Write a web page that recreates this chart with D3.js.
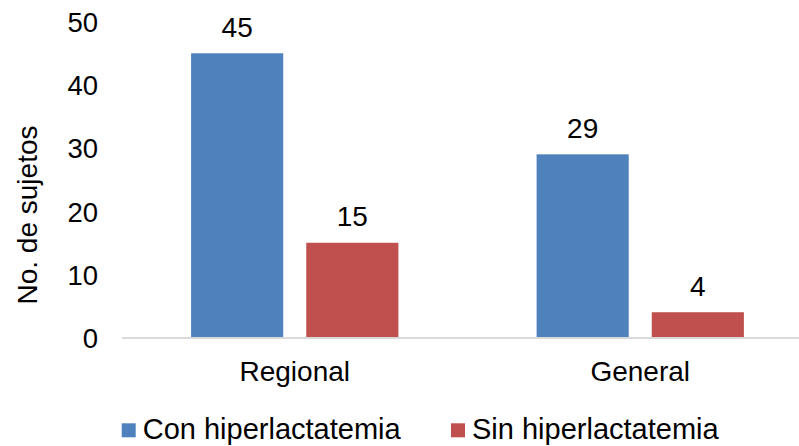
<!DOCTYPE html>
<html>
<head>
<meta charset="utf-8">
<script src="https://cdn.jsdelivr.net/npm/d3@7"></script>
<style>
  html, body { margin: 0; padding: 0; background: #fff; }
  text { font-family: "Liberation Sans", Arial, sans-serif; fill: #000; }
</style>
</head>
<body>
<svg id="chart" width="799" height="446"></svg>
<script>
// Hospital categories, series and values
const categories = ["Regional", "General"];
const seriesNames = ["Con hiperlactatemia", "Sin hiperlactatemia"];
const conValues = [45, 29];
const sinValues = [15, 4];
const yTicks = [0, 10, 20, 30, 40, 50];
const colors = ["#4F81BD", "#C0504D"];

const svg = d3.select("#chart");
const W = 799, H = 446;
const plot = { left: 122, right: 813, top: 21.7, bottom: 337.5 };

const rows = categories.map((c, i) => ({ cat: c, values: [conValues[i], sinValues[i]] }));

const y = d3.scaleLinear().domain([0, 50]).range([plot.bottom, plot.top]);
const x0 = d3.scaleBand().domain(categories).range([plot.left, plot.right]).padding(0);

// Excel-like gap width 150% and overlap -25%
const gapWidth = 1.5, overlap = -0.25;
const barW = x0.bandwidth() / (2 - overlap + gapWidth);
const groupW = barW * (2 - overlap);
const x1 = d3.scaleBand()
  .domain(seriesNames)
  .range([(x0.bandwidth() - groupW) / 2, (x0.bandwidth() + groupW) / 2])
  .paddingInner(-overlap / (1 - overlap))
  .paddingOuter(0);

// y-axis tick labels
const yAxis = d3.axisLeft(y).tickValues(yTicks).tickSize(0).tickPadding(0);
const gy = svg.append("g").attr("transform", `translate(98,0)`).call(yAxis);
gy.select(".domain").remove();
gy.selectAll("text")
  .style("font-family", '"Liberation Sans", Arial, sans-serif')
  .style("font-size", "27.5px")
  .attr("fill", "#000")
  .attr("dy", "0.36em");

// y-axis title
svg.append("text")
  .attr("transform", `translate(37,215) rotate(-90)`)
  .attr("text-anchor", "middle")
  .style("font-size", "28px")
  .text("No. de sujetos");

// bars
const groups = svg.selectAll("g.grp").data(rows).enter().append("g")
  .attr("class", "grp")
  .attr("transform", d => `translate(${x0(d.cat)},0)`);

groups.selectAll("rect").data(d => d.values.map((v, i) => ({ s: seriesNames[i], v, i })))
  .enter().append("rect")
  .attr("x", d => x1(d.s))
  .attr("width", x1.bandwidth())
  .attr("y", d => y(d.v))
  .attr("height", d => y(0) - y(d.v))
  .attr("fill", d => colors[d.i]);

// data labels
groups.selectAll("text.lbl").data(d => d.values.map((v, i) => ({ s: seriesNames[i], v, i })))
  .enter().append("text")
  .attr("class", "lbl")
  .attr("x", d => x1(d.s) + x1.bandwidth() / 2)
  .attr("y", d => y(d.v) - 16.5)
  .attr("text-anchor", "middle")
  .style("font-size", "28px")
  .text(d => d.v);

// category axis line
svg.append("line")
  .attr("x1", plot.left).attr("x2", W)
  .attr("y1", y(0) + 0.5).attr("y2", y(0) + 0.5)
  .attr("stroke", "#d9d9d9").attr("stroke-width", 2);

// category labels
const xAxis = d3.axisBottom(x0).tickSize(0).tickPadding(0);
const gx = svg.append("g").attr("transform", `translate(0,${y(0)})`).call(xAxis);
gx.select(".domain").remove();
gx.selectAll("text")
  .style("font-family", '"Liberation Sans", Arial, sans-serif')
  .style("font-size", "28px")
  .attr("fill", "#000")
  .attr("dy", null)
  .attr("y", 43.5);

// legend
const legendX = [121.7, 451];
const lg = svg.selectAll("g.leg").data(seriesNames).enter().append("g")
  .attr("class", "leg")
  .attr("transform", (d, i) => `translate(${legendX[i]},423.3)`);
lg.append("rect").attr("width", 14).attr("height", 14).attr("fill", (d, i) => colors[i]);
lg.append("text").attr("x", 21).attr("y", 16)
  .style("font-size", "29px")
  .text(d => d);
</script>
</body>
</html>
